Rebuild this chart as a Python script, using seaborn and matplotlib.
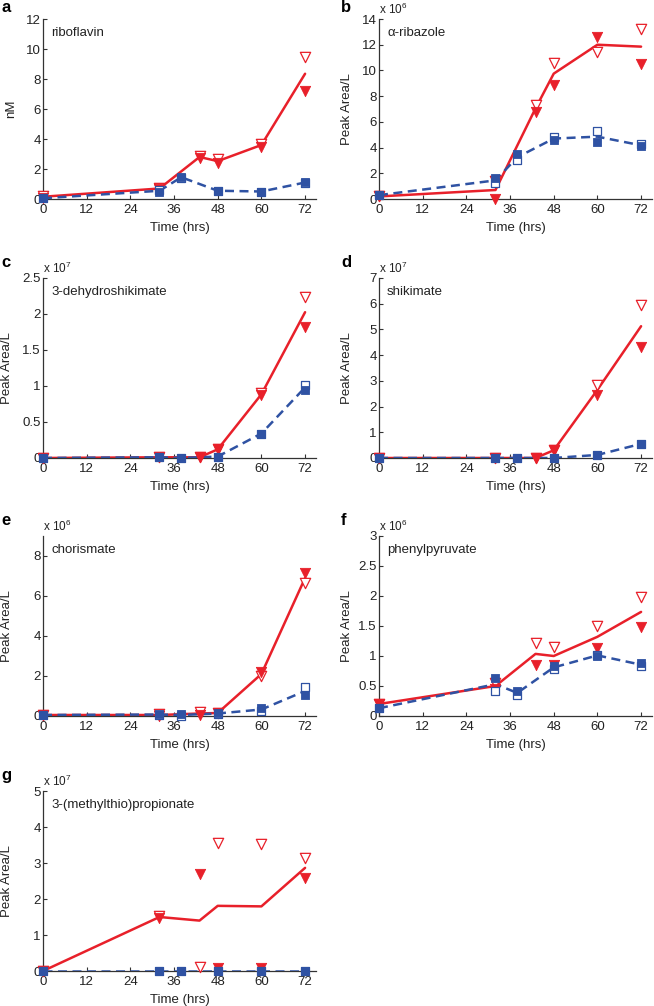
import numpy as np
import pandas as pd
import matplotlib
matplotlib.use("Agg")
import matplotlib.pyplot as plt
import seaborn as sns
from matplotlib.ticker import FuncFormatter, FixedLocator

sns.set_theme(style="ticks")
plt.rcParams["font.family"] = ["Liberation Sans", "DejaVu Sans"]
plt.rcParams["mathtext.default"] = "regular"

# ---------------- data ----------------
t_red = [0, 32, 43, 48, 60, 72]
t_blue = [0, 32, 38, 48, 60, 72]
x_ticks = [0, 12, 24, 36, 48, 60, 72]

# a riboflavin (nM)
rib_red_filled = [0.10, 0.65, 2.75, 2.40, 3.50, 7.20]
rib_red_open = [0.20, 0.75, 2.85, 2.65, 3.70, 9.50]
rib_blue_filled = [0.05, 0.50, 1.50, 0.55, 0.50, 1.15]
rib_blue_open = [0.05, 0.60, 1.40, 0.55, 0.50, 1.05]

# b alpha-ribazole (x1e6)
riz_red_filled = [0.2, 0.0, 6.8, 8.9, 12.6, 10.5]
riz_red_open = [0.2, 1.4, 7.3, 10.6, 11.4, 13.2]
riz_blue_filled = [0.3, 1.65, 3.5, 4.6, 4.4, 4.1]
riz_blue_open = [0.3, 1.25, 3.0, 4.8, 5.3, 4.25]

# c 3-dehydroshikimate (x1e7)
dhs_red_filled = [0.0, 0.01, 0.01, 0.12, 0.87, 1.82]
dhs_red_open = [0.0, 0.01, 0.01, 0.12, 0.90, 2.23]
dhs_blue_filled = [0.0, 0.01, 0.0, 0.02, 0.34, 0.95]
dhs_blue_open = [0.0, 0.01, 0.0, 0.02, 0.34, 1.01]

# d shikimate (x1e7)
shk_red_filled = [0.0, 0.0, 0.0, 0.3, 2.45, 4.3]
shk_red_open = [0.0, 0.0, 0.0, 0.3, 2.85, 5.95]
shk_blue_filled = [0.0, 0.0, 0.0, 0.0, 0.12, 0.55]
shk_blue_open = [0.0, 0.0, 0.0, 0.0, 0.12, 0.55]

# e chorismate (x1e6)
cho_red_filled = [0.05, 0.0, 0.05, 0.15, 2.2, 7.15]
cho_red_open = [0.05, 0.1, 0.2, 0.15, 2.0, 6.65]
cho_blue_filled = [0.05, 0.1, 0.1, 0.15, 0.4, 1.05]
cho_blue_open = [0.05, 0.05, 0.0, 0.1, 0.25, 1.45]

# f phenylpyruvate (x1e6)
php_red_filled = [0.2, 0.45, 0.85, 0.85, 1.14, 1.48]
php_red_open = [0.2, 0.55, 1.22, 1.15, 1.50, 1.99]
php_blue_filled = [0.13, 0.64, 0.42, 0.84, 1.0, 0.88]
php_blue_open = [0.13, 0.42, 0.35, 0.78, 1.02, 0.83]

# g 3-(methylthio)propionate (x1e7)
mtp_red_filled = [0.0, 1.48, 2.70, 0.07, 0.07, 2.58]
mtp_red_open = [0.0, 1.52, 0.10, 3.55, 3.52, 3.15]
mtp_blue_filled = [0.0, 0.0, 0.0, 0.0, 0.0, 0.0]
mtp_blue_open = [0.0, 0.0, 0.0, 0.0, 0.0, 0.0]

letters = ["a", "b", "c", "d", "e", "f", "g"]
names = ["riboflavin", "α-ribazole", "3-dehydroshikimate", "shikimate",
         "chorismate", "phenylpyruvate", "3-(methylthio)propionate"]
ylabels = ["nM"] + ["Peak Area/L"] * 6
exponents = [None, 6, 7, 7, 6, 6, 7]
ymaxes = [12, 14, 2.5, 7, 9, 3, 5]
ytick_steps = [2, 2, 0.5, 1, 2, 0.5, 1]
ytick_tops = [12, 14, 2.5, 7, 8, 3, 5]

series = [
    (rib_red_filled, rib_red_open, rib_blue_filled, rib_blue_open),
    (riz_red_filled, riz_red_open, riz_blue_filled, riz_blue_open),
    (dhs_red_filled, dhs_red_open, dhs_blue_filled, dhs_blue_open),
    (shk_red_filled, shk_red_open, shk_blue_filled, shk_blue_open),
    (cho_red_filled, cho_red_open, cho_blue_filled, cho_blue_open),
    (php_red_filled, php_red_open, php_blue_filled, php_blue_open),
    (mtp_red_filled, mtp_red_open, mtp_blue_filled, mtp_blue_open),
]

RED = "#e8202a"
BLUE = "#2f52a3"
AXC = "#333333"
TXT = "#222222"

W, H = 654, 1006
fig = plt.figure(figsize=(W / 100, H / 100), dpi=100)

col_left = [43, 379]
ax_w = 273
row_top = [19, 278, 536, 791]
ax_h = 180

fmt = FuncFormatter(lambda v, p: "%g" % v)

for i in range(7):
    r, c = divmod(i, 2)
    left = col_left[c]
    top = row_top[r]
    ax = fig.add_axes([left / W, 1 - (top + ax_h) / H, ax_w / W, ax_h / H])
    rf, ro, bf, bo = series[i]

    df_red = pd.DataFrame({"t": t_red + t_red, "v": rf + ro})
    df_blue = pd.DataFrame({"t": t_blue + t_blue, "v": bf + bo})

    sns.lineplot(data=df_red, x="t", y="v", estimator="mean", errorbar=None,
                 color=RED, linewidth=1.8, ax=ax, zorder=2)
    sns.lineplot(data=df_blue, x="t", y="v", estimator="mean", errorbar=None,
                 color=BLUE, linewidth=1.8, ax=ax, zorder=3)
    ax.lines[-1].set_dashes([3.6, 2.2])

    sns.scatterplot(x=t_red, y=ro, marker="v", s=55, color=RED, facecolors="white",
                    edgecolor=RED, linewidth=0.9, ax=ax, zorder=4, clip_on=False)
    sns.scatterplot(x=t_red, y=rf, marker="v", s=55, color=RED, edgecolor=RED,
                    linewidth=0.6, ax=ax, zorder=5, clip_on=False)
    sns.scatterplot(x=t_blue, y=bo, marker="s", s=28, color=BLUE, facecolors="white",
                    edgecolor=BLUE, linewidth=0.9, ax=ax, zorder=6, clip_on=False)
    sns.scatterplot(x=t_blue, y=bf, marker="s", s=28, color=BLUE, edgecolor=BLUE,
                    linewidth=0.6, ax=ax, zorder=7, clip_on=False)

    ax.set_xlim(0, 75)
    ax.set_ylim(0, ymaxes[i])
    ax.xaxis.set_major_locator(FixedLocator(x_ticks))
    ax.yaxis.set_major_locator(FixedLocator(
        list(np.round(np.arange(0, ytick_tops[i] + 1e-9, ytick_steps[i]), 3))))
    ax.yaxis.set_major_formatter(fmt)
    ax.xaxis.set_major_formatter(fmt)

    sns.despine(ax=ax)
    for s in ["left", "bottom"]:
        ax.spines[s].set_color(AXC)
        ax.spines[s].set_linewidth(0.9)
    ax.tick_params(axis="both", direction="in", length=3, width=0.8, color=AXC,
                   labelsize=9.5, labelcolor=TXT)
    ax.tick_params(axis="y", pad=1.5)
    ax.tick_params(axis="x", pad=3.5)

    ax.set_xlabel("Time (hrs)", fontsize=9.5, color=TXT)
    ax.set_ylabel(ylabels[i], fontsize=9.5, color=TXT)
    ax.xaxis.set_label_coords(0.5, -23 / ax_h)
    ylx = -30 if c == 0 else -26
    if i == 0:
        ylx = -26
    ax.yaxis.set_label_coords(ylx / ax_w, 0.5)

    ax.text(8 / ax_w, 0.92, names[i], transform=ax.transAxes, fontsize=9.5,
            color=TXT, ha="left", va="center")
    if exponents[i] is not None:
        ax.text(0, 1 + 5 / ax_h, r"x 10$^{%d}$" % exponents[i], transform=ax.transAxes,
                fontsize=8.5, color=TXT, ha="left", va="baseline")

    lx = 1 if c == 0 else 341
    ly = 12 if r == 0 else top - 11
    fig.text(lx / W, 1 - ly / H, letters[i], fontsize=12, fontweight="bold",
             color="black", ha="left", va="baseline")

fig.savefig("out.png", dpi=100)
